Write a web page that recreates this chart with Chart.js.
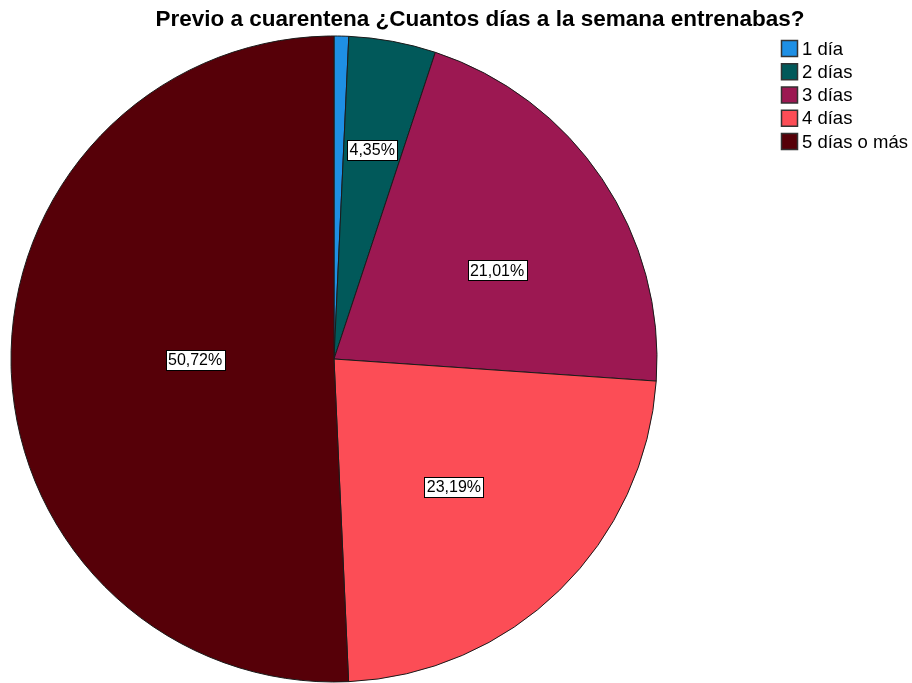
<!DOCTYPE html>
<html>
<head>
<meta charset="utf-8">
<script src="https://cdn.jsdelivr.net/npm/chart.js@4/dist/chart.umd.min.js"></script>
<style>
  html, body { margin: 0; padding: 0; background: #fff; overflow: hidden; }
  canvas { display: block; }
</style>
</head>
<body>
<canvas id="dias-semana" width="912" height="700"></canvas>
<script>
const categorias = ["1 día", "2 días", "3 días", "4 días", "5 días o más"];
const porcentajes = [0.73, 4.35, 21.01, 23.19, 50.72];
const colores = ["#1E8FE4", "#01595A", "#9C1852", "#FC4D56", "#560008"];
const titulo = "Previo a cuarentena ¿Cuantos días a la semana entrenabas?";

// etiquetas: fraccion del radio y ajuste de angulo (grados) por sector
const posEtiquetas = [null, [0.658, -0.1], [0.575, 5.3], [0.543, 1.2], [0.43, 0.9]];

const fmt = (v) => v.toFixed(2).replace(".", ",") + "%";

// Titulo, leyenda y etiquetas
const extras = {
  id: "extras",
  afterDatasetsDraw(chart) {
    const ctx = chart.ctx;
    ctx.save();

    // titulo
    ctx.fillStyle = "#000";
    ctx.font = "bold 22.5px 'Liberation Sans', Arial, sans-serif";
    ctx.textAlign = "center";
    ctx.textBaseline = "alphabetic";
    ctx.fillText(titulo, 480, 26);

    // etiquetas de valor
    const arcs = chart.getDatasetMeta(0).data;
    ctx.font = "16px 'Liberation Sans', Arial, sans-serif";
    arcs.forEach((arc, i) => {
      const p = posEtiquetas[i];
      if (!p) return;
      const mid = (arc.startAngle + arc.endAngle) / 2 + p[1] * Math.PI / 180;
      const r = arc.outerRadius * p[0];
      const x = arc.x + Math.cos(mid) * r;
      const y = arc.y + Math.sin(mid) * r;
      const txt = fmt(porcentajes[i]);
      const w = Math.round(ctx.measureText(txt).width + 5);
      const h = 20;
      const bx = Math.round(x - w / 2) + 0.5;
      const by = Math.round(y - h / 2) + 0.5;
      ctx.fillStyle = "#fff";
      ctx.fillRect(bx, by, w, h);
      ctx.strokeStyle = "#000";
      ctx.lineWidth = 1;
      ctx.strokeRect(bx, by, w, h);
      ctx.fillStyle = "#000";
      ctx.textAlign = "center";
      ctx.textBaseline = "middle";
      ctx.fillText(txt, x, y + 1);
    });

    // leyenda
    ctx.font = "18.5px 'Liberation Sans', Arial, sans-serif";
    ctx.textAlign = "left";
    ctx.textBaseline = "middle";
    categorias.forEach((c, i) => {
      const top = 40 + i * 23.25;
      ctx.fillStyle = colores[i];
      ctx.fillRect(781.5, top + 0.5, 16, 16);
      ctx.strokeStyle = "#333";
      ctx.lineWidth = 1.5;
      ctx.strokeRect(781.5, top + 0.5, 16, 16);
      ctx.fillStyle = "#000";
      ctx.fillText(c, 802, top + 9.5);
    });

    ctx.restore();
  }
};

new Chart(document.getElementById("dias-semana"), {
  type: "pie",
  data: {
    labels: categorias,
    datasets: [
      {
        data: porcentajes,
        backgroundColor: colores,
        borderColor: "#1a1a1a",
        borderWidth: 1,
        hoverOffset: 0,
      },
    ],
  },
  options: {
    responsive: false,
    animation: false,
    radius: 323,
    layout: {
      padding: { left: 11, right: 255, top: 36, bottom: 18 },
    },
    plugins: {
      legend: { display: false },
      title: { display: false },
      tooltip: { enabled: false },
    },
  },
  plugins: [extras],
});
</script>
</body>
</html>
